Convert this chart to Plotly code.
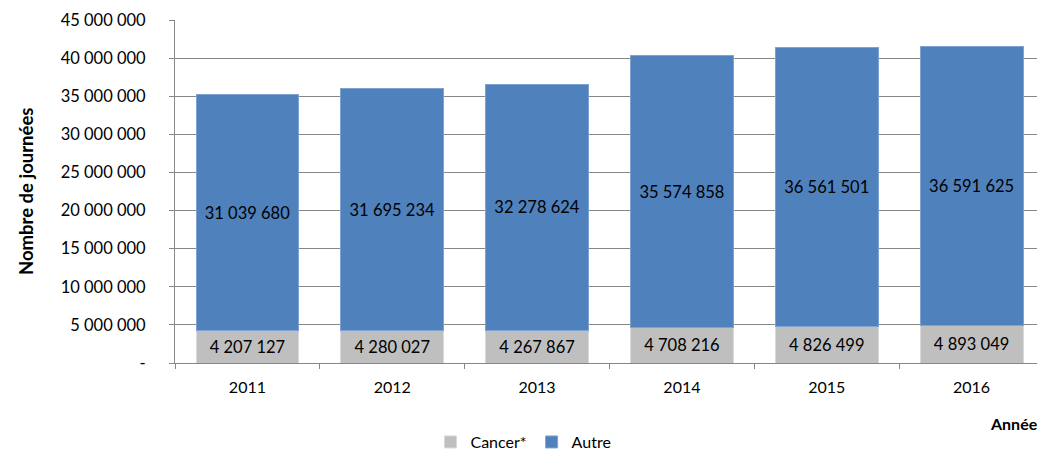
import plotly.graph_objects as go

years = ["2011", "2012", "2013", "2014", "2015", "2016"]
cancer = [4207127, 4280027, 4267867, 4708216, 4826499, 4893049]
autre = [31039680, 31695234, 32278624, 35574858, 36561501, 36591625]
y_ticks = [0, 5000000, 10000000, 15000000, 20000000, 25000000, 30000000, 35000000, 40000000, 45000000]


def fmt(v):
    if v == 0:
        return "-"
    return f"{v:,}".replace(",", " ")


FONT = "Lato, 'Open Sans', sans-serif"

fig = go.Figure()
fig.add_trace(go.Bar(
    name="Cancer*", x=years, y=cancer,
    marker=dict(color="#BFBFBF", line=dict(color="#D9D9D9", width=1)),
    text=[fmt(v) for v in cancer], textposition="inside", insidetextanchor="middle",
    textfont=dict(color="black", size=16.5, family=FONT), textangle=0,
))
fig.add_trace(go.Bar(
    name="Autre", x=years, y=autre,
    marker=dict(color="#4F81BD", line=dict(color="#7FA3D0", width=1)),
    text=[fmt(v) for v in autre], textposition="inside", insidetextanchor="middle",
    textfont=dict(color="black", size=16.5, family=FONT), textangle=0,
))

# page body has an 8px margin: figure drawn at (8, 8)
fig.update_layout(
    barmode="stack",
    bargap=0.29,
    width=1037, height=446,
    margin=dict(l=167, r=1, t=12, b=91, autoexpand=False),
    plot_bgcolor="white", paper_bgcolor="white",
    font=dict(family=FONT, size=15, color="black"),
    uniformtext=dict(minsize=10, mode="show"),
    legend=dict(orientation="h", x=0.401, xanchor="center", y=-0.28, yanchor="bottom",
                font=dict(size=16), traceorder="normal", itemwidth=30, tracegroupgap=0,
                borderwidth=0),
    showlegend=True,
)
fig.update_yaxes(
    range=[0, 45000000],
    tickvals=y_ticks, ticktext=[fmt(v) for v in y_ticks],
    showgrid=True, gridcolor="#878787", gridwidth=1,
    showline=True, linecolor="#878787", linewidth=1,
    ticks="outside", ticklen=5, tickcolor="#878787",
    tickfont=dict(size=16.5), zeroline=False, ticklabelstandoff=20,
)
fig.update_xaxes(
    showline=True, linecolor="#878787", linewidth=1,
    ticks="outside", ticklen=5, tickcolor="#878787", tickson="boundaries",
    tickfont=dict(size=16), ticklabelstandoff=10,
)
fig.add_annotation(text="<b>Nombre de journées</b>", xref="paper", yref="paper",
                   x=-0.172, y=0.50, textangle=-90, showarrow=False,
                   font=dict(size=18.5), xanchor="center", yanchor="middle")
fig.add_annotation(text="<b>Année</b>", xref="paper", yref="paper",
                   x=0.995, y=-0.175, showarrow=False,
                   font=dict(size=16), xanchor="right", yanchor="middle")

fig.write_html("out.html")
